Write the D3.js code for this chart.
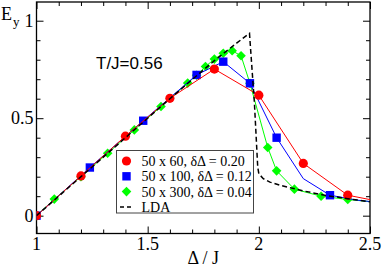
<!DOCTYPE html>
<html><head><meta charset="utf-8">
<script src="https://cdn.jsdelivr.net/npm/d3@7"></script>
<style>body{margin:0;background:#fff}svg{display:block}</style>
</head><body>
<svg id="c" width="382" height="268"></svg>
<script>
// ---- data ----
const redX = [1.0, 1.2, 1.4, 1.6, 1.8, 2.0, 2.2, 2.4, 2.6];
const redY = [0.0, 0.204, 0.408, 0.602, 0.752, 0.618, 0.268, 0.105, 0.06];
const blueX = [1.0, 1.24, 1.48, 1.72, 1.84, 1.96, 2.08, 2.20, 2.32, 2.44, 2.56];
const blueY = [0.0, 0.247, 0.487, 0.722, 0.79, 0.679, 0.40, 0.19, 0.105, 0.08, 0.065];
const blueMarked = [true, true, true, true, true, true, true, false, true, false, false];
const greenX = [1.0, 1.08, 1.20, 1.32, 1.44, 1.56, 1.68, 1.72, 1.76, 1.80, 1.84, 1.88, 1.92, 1.96, 2.04, 2.08, 2.16, 2.28, 2.40, 2.52];
const greenY = [0.0, 0.085, 0.20, 0.32, 0.44, 0.56, 0.68, 0.72, 0.765, 0.803, 0.833, 0.846, 0.82, 0.679, 0.35, 0.23, 0.136, 0.10, 0.083, 0.07];
const ldaX = [1.0, 1.2, 1.4, 1.6, 1.7, 1.8, 1.9, 1.958, 1.98, 1.995, 2.0, 2.02, 2.05, 2.1, 2.2, 2.3, 2.4, 2.5];
const ldaY = [0.0, 0.2, 0.4, 0.6, 0.698, 0.795, 0.885, 0.935, 0.58, 0.25, 0.215, 0.19, 0.172, 0.155, 0.127, 0.104, 0.087, 0.071];
const xMajor = [1, 1.5, 2, 2.5];
const xMajorLabels = ["1", "1.5", "2", "2.5"];
const yMajor = [0, 0.5, 1];
const yMajorLabels = ["0", "0.5", "1"];
const legendLabels = ["50 x 60, \u03b4\u0394 = 0.20", "50 x 100, \u03b4\u0394 = 0.12", "50 x 300, \u03b4\u0394 = 0.04", "LDA"];
const titleText = "T/J=0.56";

// ---- layout ----
const L = 36.5, R = 370, T = 2, B = 233.5;
const x = d3.scaleLinear().domain([1, 2.5]).range([L, R]);
const y = d3.scaleLinear().domain([-0.0914, 1.096]).range([B, T]);
const svg = d3.select("#c");
const serif = "'Liberation Serif','Times New Roman',serif";
const sans = "'Liberation Sans',Arial,sans-serif";
const RED = "#ff0000", BLUE = "#0000ff", GREEN = "#00ff00";

svg.append("clipPath").attr("id", "clip").append("rect")
  .attr("x", L).attr("y", T).attr("width", R - L).attr("height", B - T);

const xMinor = d3.range(10, 26).map(v => v / 10).filter(v => !xMajor.some(m => Math.abs(m - v) < 1e-6));
const yMinor = d3.range(0, 11).map(v => v / 10).filter(v => !yMajor.some(m => Math.abs(m - v) < 1e-6));

function axisG(axis, tx, ty) {
  const g = svg.append("g").attr("transform", `translate(${tx},${ty})`).call(axis);
  g.selectAll("text").remove();
  g.select(".domain").remove();
  g.selectAll("line").attr("stroke", "#000").attr("stroke-width", 1);
  return g;
}
axisG(d3.axisBottom(x).tickValues(xMajor).tickSizeInner(-7).tickSizeOuter(0), 0, B);
axisG(d3.axisBottom(x).tickValues(xMinor).tickSizeInner(-4).tickSizeOuter(0), 0, B);
axisG(d3.axisTop(x).tickValues(xMajor).tickSizeInner(-7).tickSizeOuter(0), 0, T);
axisG(d3.axisTop(x).tickValues(xMinor).tickSizeInner(-4).tickSizeOuter(0), 0, T);
axisG(d3.axisLeft(y).tickValues(yMajor).tickSizeInner(-7).tickSizeOuter(0), L, 0);
axisG(d3.axisLeft(y).tickValues(yMinor).tickSizeInner(-4).tickSizeOuter(0), L, 0);
axisG(d3.axisRight(y).tickValues(yMajor).tickSizeInner(-7).tickSizeOuter(0), R, 0);
axisG(d3.axisRight(y).tickValues(yMinor).tickSizeInner(-4).tickSizeOuter(0), R, 0);

svg.append("rect").attr("x", L).attr("y", T).attr("width", R - L).attr("height", B - T)
  .attr("fill", "none").attr("stroke", "#000").attr("stroke-width", 1.3);

svg.append("g").selectAll("text").data(xMajor).join("text")
  .attr("x", d => x(d)).attr("y", 250).attr("text-anchor", "middle")
  .attr("font-family", serif).attr("font-size", 18)
  .text((d, i) => xMajorLabels[i]);
svg.append("g").selectAll("text").data(yMajor).join("text")
  .attr("x", 33.5).attr("y", d => y(d) + 6).attr("text-anchor", "end")
  .attr("font-family", serif).attr("font-size", 18)
  .text((d, i) => yMajorLabels[i]);

const ey = svg.append("text").attr("x", 1).attr("y", 20).attr("font-family", serif).attr("font-size", 18);
ey.append("tspan").text("E");
ey.append("tspan").attr("dy", 6).attr("dx", 1).attr("font-size", 13).text("y");
svg.append("text").attr("x", (L + R) / 2).attr("y", 264).attr("text-anchor", "middle")
  .attr("font-family", serif).attr("font-size", 18).text("\u0394 / J");

svg.append("text").attr("x", 96).attr("y", 68.5).attr("font-family", sans).attr("font-size", 17).text(titleText);

// series
const plot = svg.append("g").attr("clip-path", "url(#clip)");
const line = d3.line().x(d => x(d[0])).y(d => y(d[1]));
const redD = redX.map((v, i) => [v, redY[i]]);
const blueD = blueX.map((v, i) => [v, blueY[i]]);
const greenD = greenX.map((v, i) => [v, greenY[i]]);
const ldaD = ldaX.map((v, i) => [v, ldaY[i]]);

function circleM(g, cx, cy) { g.append("circle").attr("cx", cx).attr("cy", cy).attr("r", 4.6).attr("fill", RED); }
function squareM(g, cx, cy) { g.append("rect").attr("x", cx - 4.2).attr("y", cy - 4.2).attr("width", 8.4).attr("height", 8.4).attr("fill", BLUE); }
function diamondM(g, cx, cy) { g.append("path").attr("d", `M${cx},${cy - 4.8}L${cx + 4.8},${cy}L${cx},${cy + 4.8}L${cx - 4.8},${cy}Z`).attr("fill", GREEN); }

plot.append("path").datum(greenD).attr("d", line).attr("fill", "none").attr("stroke", GREEN).attr("stroke-width", 1);
greenD.forEach(d => diamondM(plot, x(d[0]), y(d[1])));
plot.append("path").datum(blueD).attr("d", line).attr("fill", "none").attr("stroke", BLUE).attr("stroke-width", 1);
blueD.forEach((d, i) => { if (blueMarked[i]) squareM(plot, x(d[0]), y(d[1])); });
plot.append("path").datum(redD).attr("d", line).attr("fill", "none").attr("stroke", RED).attr("stroke-width", 1);
redD.forEach(d => circleM(plot, x(d[0]), y(d[1])));
plot.append("path").datum(ldaD).attr("d", line).attr("fill", "none").attr("stroke", "#000")
  .attr("stroke-width", 1.5).attr("stroke-dasharray", "5,3");

// legend
const lg = svg.append("g");
lg.append("rect").attr("x", 116.5).attr("y", 150.5).attr("width", 137).attr("height", 62.5)
  .attr("fill", "#fff").attr("stroke", "#444").attr("stroke-width", 1);
const rows = [161, 176.3, 191.6, 206.9];
circleM(lg, 126.5, rows[0]);
squareM(lg, 126.5, rows[1]);
diamondM(lg, 126.5, rows[2]);
lg.append("line").attr("x1", 120).attr("x2", 132).attr("y1", rows[3]).attr("y2", rows[3])
  .attr("stroke", "#000").attr("stroke-width", 1.5).attr("stroke-dasharray", "4,3");
lg.selectAll("text.l").data(legendLabels).join("text").attr("class", "l")
  .attr("x", 141.5).attr("y", (d, i) => rows[i] + 5)
  .attr("font-family", serif).attr("font-size", 14).text(d => d);
</script>
</body></html>
